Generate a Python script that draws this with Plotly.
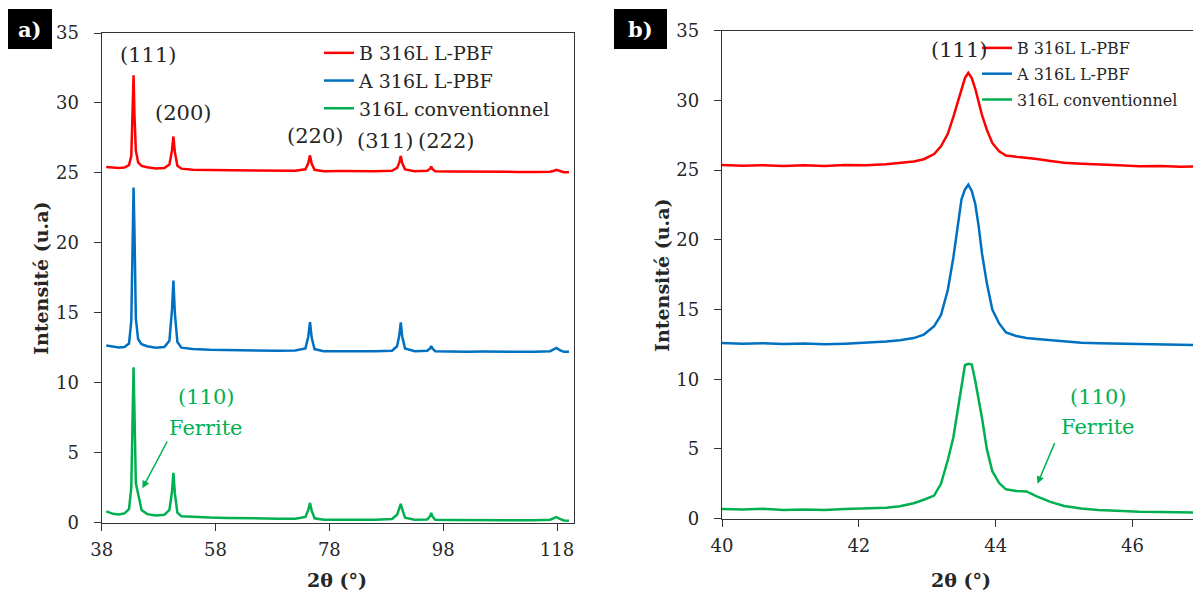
import plotly.graph_objects as go

# ---------------- data ----------------
series_names = ["B 316L L-PBF", "A 316L L-PBF", "316L conventionnel"]
series_colors = ["#FF0000", "#0070C0", "#00B050"]

# panel a) : full scan
two_theta_wide = [38.8, 40, 41, 42, 42.8, 43.2, 43.45, 43.6, 43.75, 44.0, 44.4, 45, 46, 47.5, 49,
                  49.9, 50.35, 50.6, 50.85, 51.3, 52, 54, 57, 60, 63, 66, 69, 72,
                  73.8, 74.3, 74.6, 74.9, 75.4, 77, 80, 83, 86, 89,
                  89.9, 90.3, 90.55, 90.8, 91.3, 93,
                  95.2, 95.7, 95.9, 96.1, 96.6, 99, 102, 105, 108, 111, 114,
                  116.8, 117.5, 117.9, 118.4, 119.2, 120.1]
b_wide = [25.42, 25.36, 25.35, 25.38, 25.55, 26.2, 29.5, 31.98, 29.2, 26.6, 25.75, 25.5, 25.4, 25.32, 25.35,
          25.6, 26.6, 27.6, 26.5, 25.5, 25.3, 25.22, 25.2, 25.18, 25.16, 25.17, 25.14, 25.15,
          25.25, 25.7, 26.25, 25.65, 25.22, 25.12, 25.13, 25.1, 25.12, 25.15,
          25.35, 25.75, 26.2, 25.7, 25.25, 25.12,
          25.15, 25.3, 25.45, 25.28, 25.12, 25.1, 25.08, 25.1, 25.08, 25.07, 25.06,
          25.08, 25.15, 25.22, 25.15, 25.05, 25.04]
a_wide = [12.65, 12.55, 12.52, 12.55, 12.8, 14.4, 21.0, 23.95, 21.0, 14.6, 13.1, 12.75, 12.6, 12.5, 12.55,
          13.0, 15.2, 17.3, 15.0, 12.9, 12.5, 12.4, 12.35, 12.33, 12.3, 12.32, 12.28, 12.3,
          12.45, 13.3, 14.32, 13.2, 12.4, 12.25, 12.27, 12.25, 12.24, 12.28,
          12.6, 13.4, 14.3, 13.3, 12.45, 12.25,
          12.28, 12.45, 12.62, 12.45, 12.25, 12.22, 12.2, 12.22, 12.2, 12.18, 12.2,
          12.25, 12.38, 12.48, 12.35, 12.2, 12.2]
conv_wide = [0.8, 0.62, 0.58, 0.65, 0.95, 2.5, 8.0, 11.1, 8.0, 2.8, 2.05, 0.9, 0.6, 0.5, 0.55,
             0.9, 2.2, 3.55, 2.1, 0.7, 0.45, 0.4, 0.35, 0.33, 0.3, 0.28, 0.27, 0.27,
             0.4, 0.9, 1.4, 0.85, 0.3, 0.2, 0.22, 0.2, 0.2, 0.25,
             0.55, 1.0, 1.33, 0.95, 0.35, 0.2,
             0.22, 0.45, 0.68, 0.45, 0.2, 0.18, 0.17, 0.17, 0.16, 0.15, 0.16,
             0.2, 0.3, 0.38, 0.28, 0.15, 0.12]

# panel b) : zoom on the (111) peak
two_theta_zoom = [40.0, 40.3, 40.6, 40.9, 41.2, 41.5, 41.8, 42.1, 42.4, 42.6, 42.8, 42.95, 43.1, 43.2,
                  43.3, 43.38, 43.45, 43.5, 43.55, 43.6, 43.65, 43.7, 43.75, 43.8, 43.87, 43.95,
                  44.05, 44.15, 44.3, 44.45, 44.6, 44.8, 45.0, 45.25, 45.5, 45.8, 46.1, 46.4, 46.7, 47.0]
b_zoom = [25.37, 25.32, 25.35, 25.3, 25.34, 25.3, 25.36, 25.35, 25.42, 25.5, 25.62, 25.78, 26.15, 26.7,
          27.6, 28.8, 30.0, 30.9, 31.6, 31.98, 31.6, 30.85, 29.9, 28.95, 27.9, 26.95,
          26.35, 26.05, 25.95, 25.88, 25.8, 25.65, 25.52, 25.45, 25.38, 25.35, 25.28, 25.3, 25.24, 25.27]
a_zoom = [12.6, 12.55, 12.58, 12.52, 12.56, 12.5, 12.55, 12.6, 12.7, 12.8, 12.95, 13.2, 13.8, 14.6,
          16.4, 18.7, 21.0, 22.9, 23.6, 23.95, 23.5, 22.6, 21.0, 19.0, 16.9, 15.0,
          14.0, 13.35, 13.1, 12.95, 12.88, 12.8, 12.7, 12.62, 12.58, 12.55, 12.5, 12.5, 12.45, 12.45]
conv_zoom = [0.68, 0.65, 0.7, 0.62, 0.66, 0.62, 0.68, 0.72, 0.78, 0.88, 1.1, 1.35, 1.65, 2.5,
             4.2, 5.8, 8.0, 9.7, 11.0, 11.1, 11.05, 9.9, 8.6, 7.2, 5.0, 3.4,
             2.55, 2.1, 1.98, 1.95, 1.6, 1.2, 0.9, 0.72, 0.62, 0.55, 0.5, 0.48, 0.45, 0.43]

x_ticks_wide = [38, 58, 78, 98, 118]
x_ticks_zoom = [40, 42, 44, 46]
y_ticks = [0, 5, 10, 15, 20, 25, 30, 35]

peak_labels_wide = ["(111)", "(200)", "(220)", "(311)", "(222)"]
peak_label_pos_wide = [(46.1, 33.4), (52.2, 29.3), (75.4, 27.65), (87.7, 27.25), (98.5, 27.25)]

# ---------------- figure ----------------
# the page body keeps an 8 px margin, so the figure is drawn 8 px smaller and
# reference pixel positions are converted accordingly
OFF = 8
W, H = 1201 - OFF, 597 - OFF
FONT = "DejaVu Serif"
INK = "#262626"
AXC = "#333333"
GREEN = series_colors[2]


def px_x(p):
    return (p - OFF) / W


def px_y(p):
    return 1 - (p - OFF) / H


fig = go.Figure()

wide_ys = [b_wide, a_wide, conv_wide]
zoom_ys = [b_zoom, a_zoom, conv_zoom]
for i, name in enumerate(series_names):
    fig.add_trace(go.Scatter(x=two_theta_wide, y=wide_ys[i], mode="lines", name=name,
                             line=dict(color=series_colors[i], width=2.5),
                             xaxis="x", yaxis="y", legend="legend", legendgroup="a%d" % i))
for i, name in enumerate(series_names):
    fig.add_trace(go.Scatter(x=two_theta_zoom, y=zoom_ys[i], mode="lines", name=name,
                             line=dict(color=series_colors[i], width=2.5),
                             xaxis="x2", yaxis="y2", legend="legend2", legendgroup="b%d" % i))

dom_x1 = [px_x(101.7), px_x(573.5)]
dom_y1 = [px_y(522.5), px_y(33)]
dom_x2 = [px_x(722), 1.0]
dom_y2 = [px_y(518.6), px_y(30.7)]
range_x1 = [38, 120.9]
range_x2 = [40, 47]
range_y = [0, 35]

tickfont = dict(family=FONT, size=18, color=INK)
common = dict(showline=True, linecolor=AXC, linewidth=1.3, showgrid=False, zeroline=False,
              automargin=False, ticks="outside", ticklen=7, tickwidth=1.3, tickcolor=AXC,
              tickfont=tickfont)
inner = dict(ticks="inside", ticklen=6, tickwidth=1.3, tickcolor=AXC, automargin=False,
             showticklabels=False, showline=False, showgrid=False, zeroline=False)

fig.update_layout(
    template="none",
    width=W, height=H, margin=dict(l=0, r=0, t=0, b=0, autoexpand=False),
    paper_bgcolor="white", plot_bgcolor="white",
    font=dict(family=FONT, color=INK),
    xaxis=dict(domain=dom_x1, range=range_x1, tickvals=x_ticks_wide, anchor="y", mirror=True,
               ticklabelstandoff=4, **common),
    yaxis=dict(domain=dom_y1, range=range_y, tickvals=y_ticks, anchor="x", mirror=True,
               ticklabelstandoff=11, **common),
    xaxis2=dict(domain=dom_x2, range=range_x2, tickvals=x_ticks_zoom, anchor="y2", mirror=True,
                ticklabelstandoff=4, **common),
    yaxis2=dict(domain=dom_y2, range=range_y, tickvals=y_ticks, anchor="x2", mirror=False,
                ticklabelstandoff=11, **common),
    # overlay axes that draw the inner half of the crossing tick marks
    xaxis3=dict(overlaying="x", anchor="y", domain=dom_x1, range=range_x1, tickvals=x_ticks_wide, **inner),
    yaxis3=dict(overlaying="y", anchor="x", domain=dom_y1, range=range_y, tickvals=y_ticks, **inner),
    xaxis4=dict(overlaying="x2", anchor="y2", domain=dom_x2, range=range_x2, tickvals=x_ticks_zoom, **inner),
    yaxis4=dict(overlaying="y2", anchor="x2", domain=dom_y2, range=range_y, tickvals=y_ticks, **inner),
    legend=dict(x=px_x(319), y=px_y(34), xanchor="left", yanchor="top",
                bgcolor="rgba(0,0,0,0)", borderwidth=0, tracegroupgap=0,
                font=dict(family=FONT, size=19, color=INK)),
    legend2=dict(x=px_x(977), y=px_y(31), xanchor="left", yanchor="top",
                 bgcolor="rgba(0,0,0,0)", borderwidth=0, tracegroupgap=2,
                 font=dict(family=FONT, size=16, color=INK)),
    showlegend=True,
)

ann = []
# peak labels, panel a
for txt, (xx, yy) in zip(peak_labels_wide, peak_label_pos_wide):
    ann.append(dict(x=xx, y=yy, xref="x", yref="y", text=txt, showarrow=False,
                    xanchor="center", yanchor="middle",
                    font=dict(family=FONT, size=21, color=INK)))
# ferrite labels panel a
ann.append(dict(x=56.4, y=8.95, xref="x", yref="y", text="(110)", showarrow=False,
                xanchor="center", yanchor="middle", font=dict(family=FONT, size=21, color=GREEN)))
ann.append(dict(x=56.3, y=6.74, xref="x", yref="y", text="Ferrite", showarrow=False,
                xanchor="center", yanchor="middle", font=dict(family=FONT, size=21, color=GREEN)))
ann.append(dict(x=45.15, y=2.44, ax=49.65, ay=5.9, xref="x", yref="y", axref="x", ayref="y",
                text="", showarrow=True, arrowhead=2, arrowsize=1, arrowwidth=1.5, arrowcolor=GREEN))
# panel b labels
ann.append(dict(x=43.47, y=33.62, xref="x2", yref="y2", text="(111)", showarrow=False,
                xanchor="center", yanchor="middle", font=dict(family=FONT, size=21, color=INK)))
ann.append(dict(x=45.49, y=8.72, xref="x2", yref="y2", text="(110)", showarrow=False,
                xanchor="center", yanchor="middle", font=dict(family=FONT, size=21, color=GREEN)))
ann.append(dict(x=45.49, y=6.57, xref="x2", yref="y2", text="Ferrite", showarrow=False,
                xanchor="center", yanchor="middle", font=dict(family=FONT, size=21, color=GREEN)))
ann.append(dict(x=44.61, y=2.5, ax=44.87, ay=5.52, xref="x2", yref="y2", axref="x2", ayref="y2",
                text="", showarrow=True, arrowhead=2, arrowsize=1, arrowwidth=1.5, arrowcolor=GREEN))
# axis titles
for xc, yc in ((41, 278), (662, 275)):
    ann.append(dict(x=px_x(xc), y=px_y(yc), xref="paper", yref="paper",
                    text="<b>Intensité (u.a)</b>", textangle=-90, showarrow=False,
                    xanchor="center", yanchor="middle",
                    font=dict(family=FONT, size=19, color=INK)))
for xc in (337, 961):
    ann.append(dict(x=px_x(xc), y=px_y(580), xref="paper", yref="paper",
                    text="<b>2θ (°)</b>", showarrow=False,
                    xanchor="center", yanchor="middle",
                    font=dict(family=FONT, size=19, color=INK)))
# panel letters
for txt, (x0, x1) in (("a)", (7, 52)), ("b)", (614, 667))):
    ann.append(dict(x=px_x((x0 + x1) / 2), y=px_y(29), xref="paper", yref="paper",
                    text="<b>%s</b>" % txt, showarrow=False,
                    xanchor="center", yanchor="middle",
                    font=dict(family=FONT, size=21, color="white")))

fig.update_layout(annotations=ann)

shapes = []
for (x0, x1) in ((7, 52), (614, 667)):
    shapes.append(dict(type="rect", xref="paper", yref="paper", x0=px_x(x0), x1=px_x(x1),
                       y0=px_y(49), y1=px_y(9), fillcolor="black", line=dict(width=0), layer="below"))
fig.update_layout(shapes=shapes)

fig.write_html("out.html")
